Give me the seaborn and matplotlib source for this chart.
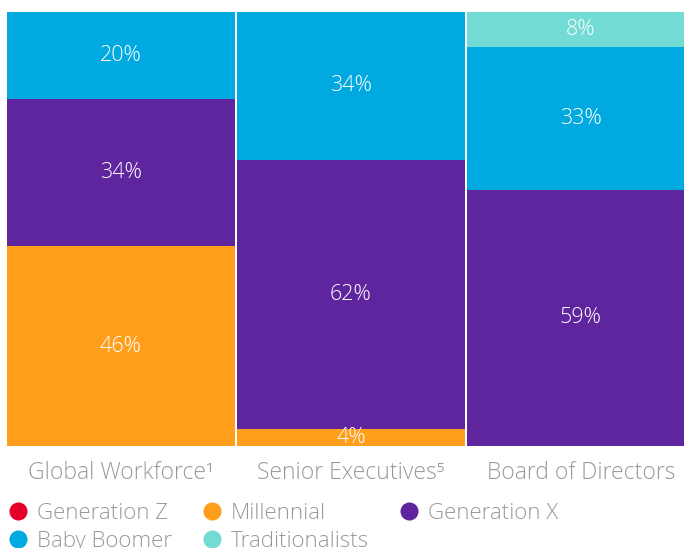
import matplotlib as mpl
import matplotlib.pyplot as plt
import numpy as np
import pandas as pd
import seaborn as sns
from matplotlib.lines import Line2D

sns.set_style('white')
plt.rcParams['font.family'] = ['Open Sans', 'DejaVu Sans']

groups = ["Global Workforce\u00b9", "Senior Executives\u2075", "Board of Directors"]
generations = ["Generation Z", "Millennial", "Generation X", "Baby Boomer", "Traditionalists"]
gen_z = [0, 0, 0]
millennial = [46, 4, 0]
gen_x = [34, 62, 59]
boomer = [20, 34, 33]
traditional = [0, 0, 8]
colors = ["#e4002b", "#ff9e1b", "#5f259f", "#00a9e0", "#71dbd4"]

df = pd.DataFrame({"group": groups, "Generation Z": gen_z, "Millennial": millennial,
                   "Generation X": gen_x, "Baby Boomer": boomer, "Traditionalists": traditional})
cum = df[generations].cumsum(axis=1)

fig = plt.figure(figsize=(6.84, 5.48), dpi=100)
ax = fig.add_axes([7 / 684, 102 / 548, 677 / 684, 434 / 548])

# draw cumulative totals from the top segment down so each one covers the rest
for gen, col in zip(generations[::-1], colors[::-1]):
    sns.barplot(x=df["group"], y=cum[gen], color=col, width=0.99, saturation=1,
                edgecolor="none", linewidth=0, ax=ax)

for i in range(len(groups)):
    for gen in generations:
        v = df.loc[i, gen]
        if v <= 0:
            continue
        mid = cum.loc[i, gen] - v / 2
        ax.text(i, mid, f"{v}%", ha="center", va="center", color="white",
                fontsize=15.5, fontweight="light")

ax.set_xlim(-0.495, -0.495 + 677 / 230)
ax.set_ylim(0, 100)
ax.set_xlabel("")
ax.set_ylabel("")
ax.set_yticks([])
ax.tick_params(axis="x", length=0, pad=11, labelsize=16.5, labelcolor="#999999")
for lab in ax.get_xticklabels():
    lab.set_fontweight("light")
sns.despine(ax=ax, left=True, bottom=True)

# legend fills column by column: reorder so rows read Z, Millennial, X / Boomer, Traditionalists
order = [0, 3, 1, 4, 2]
handles = [Line2D([], [], marker="o", linestyle="none", markersize=13,
                  markerfacecolor=colors[k], markeredgecolor="none") for k in order]
labels = [generations[k] for k in order]
leg = fig.legend(handles, labels, loc="upper left", bbox_to_anchor=(-0.003, 0.098),
                 ncol=3, frameon=False, fontsize=16, handletextpad=0.35,
                 columnspacing=1.3, labelspacing=0.3, borderaxespad=0, handlelength=1.0)
for t in leg.get_texts():
    t.set_color("#999999")
    t.set_fontweight("light")

fig.savefig("out.png", dpi=100)
